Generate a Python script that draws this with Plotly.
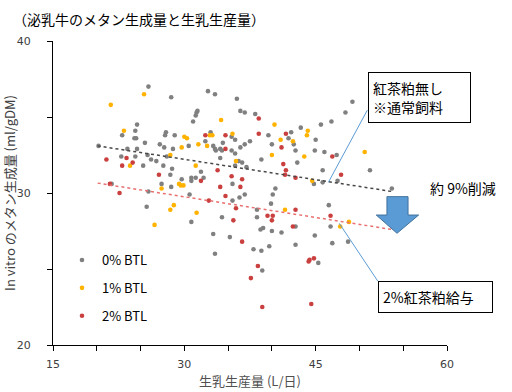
import plotly.graph_objects as go

# ---- data ----
g_x = [25.9,28.5,32.7,33.5,36.0,36.4,36.9,31.4,31.5,31.3,
       31.0,24.6,24.4,22.9,24.3,24.5,27.9,27.8,28.9,25.5,
       27.2,27.7,30.5,20.2,23.5,24.6,28.7,25.8,26.2,24.4,
       22.8,26.8,27.6,25.3,28.0,28.6,28.4,27.4,28.5,25.9,
       29.7,30.8,30.8,31.3,32.2,31.9,33.0,32.4,33.3,33.5,
       33.6,34.1,34.3,34.4,35.4,35.8,35.4,35.8,36.4,36.9,
       37.5,34.1,36.2,36.6,35.8,37.1,35.5,36.9,
       49.2,48.4,38.1,46.8,45.6,43.3,42.2,39.6,41.9,45.0,
       40.0,42.5,42.7,44.9,46.0,47.4,38.8,42.9,45.8,51.2,
       47.5,44.8,45.8,40.4,53.7,40.1,
       30.6,25.7,35.5,36.3,30.8,34.3,33.3,35.2,33.5,21.7,
       39.9,38.3,38.3,39.0,38.7,40.0,41.1,42.7,37.9,38.8,
       39.7,42.7,38.9,44.9,45.3,46.5,46.7,46.9,48.7]
g_y = [37.0,36.3,36.7,36.5,36.2,35.4,35.3,35.3,35.4,35.1,
       34.7,34.5,34.1,33.8,33.6,33.6,34.0,33.8,33.8,33.3,
       33.2,33.0,33.1,33.1,32.9,32.9,32.9,32.5,32.2,32.4,
       32.4,32.1,31.8,31.8,32.4,31.6,31.2,30.6,30.4,30.1,
       30.9,31.0,30.8,31.0,31.0,31.4,34.0,33.4,33.1,32.9,
       32.8,32.9,32.8,33.3,33.7,33.5,32.8,32.6,33.0,33.2,
       33.4,32.3,32.1,32.0,31.8,31.7,30.6,29.9,
       36.0,35.3,35.2,34.7,34.5,34.3,34.0,33.8,33.6,33.5,
       33.2,33.2,32.8,32.8,32.7,32.5,32.2,32.0,31.5,31.5,
       30.8,30.6,30.7,30.3,30.3,29.9,
       29.9,29.1,29.5,29.7,28.1,28.4,27.3,27.1,26.0,30.6,
       29.3,28.9,28.4,27.7,27.6,27.5,27.4,27.8,26.3,26.2,
       26.5,26.6,24.9,27.2,25.4,29.2,27.8,26.7,26.8]

y1_x = [25.4,21.6,34.2,23.1,30.0,30.3,32.9,33.2,35.5,31.6,
        32.6,29.7,28.4,23.8,31.3,35.9,29.4,29.6,29.9,27.4,
        40.3,44.1,44.0,41.0,42.4,40.0,43.7,50.6,44.6,28.8,
        28.4,31.4,26.6,41.5,48.8,47.8]
y1_y = [36.5,35.8,34.8,34.1,33.7,33.6,33.8,33.8,33.9,33.2,
        33.1,33.0,32.5,31.8,31.8,32.1,30.6,30.5,30.5,30.3,
        34.5,34.1,33.8,33.5,33.4,32.5,32.4,32.7,30.8,29.2,
        28.9,28.7,27.9,28.9,28.1,27.8]

r2_x = [32.4,34.7,34.7,23.4,21.1,24.1,22.9,33.8,27.1,35.4,
        36.6,31.9,34.1,36.4,21.5,22.6,38.5,38.5,41.6,41.1,
        46.9,41.3,41.6,41.5,42.7,47.9,34.7,32.8,35.9,35.6,
        36.6,37.6,38.4,42.7,39.5,40.1,40.0,42.4,46.7,44.2,
        44.3,44.8,38.9,44.5]
r2_y = [33.8,33.8,32.9,32.3,32.2,32.0,31.8,31.5,31.2,31.1,
        30.9,30.8,30.4,30.4,30.6,30.0,34.9,33.9,33.9,33.0,
        32.4,31.9,31.5,31.2,31.0,31.2,29.8,29.5,29.0,28.2,
        26.8,24.4,25.2,28.9,28.5,28.5,28.2,27.8,28.5,25.5,
        25.6,25.7,22.5,22.7]

# trend lines (end points)
trend_x = [20.1, 53.7]
trend0_y = [33.1, 30.1]
trend2_y = [30.65, 27.6]

series_names = ["0% BTL", "1% BTL", "2% BTL"]
x_tickvals = [15, 20, 25, 30, 35, 40, 45, 50, 55, 60]
x_ticktext = ["15", "", "", "30", "", "", "45", "", "", "60"]
y_tickvals = [20, 25, 30, 35, 40]
y_ticktext = ["20", "", "30", "", "40"]

C_GRAY = "#808080"
C_YEL = "#FFB300"
C_RED = "#C9403F"
JP = "Noto Sans CJK JP"

# plot-area pixel geometry
L, R, T, B = 53, 447, 41, 345
W, H = 512, 392


def px(xp):
    return (xp - L) / (R - L)


def py(yp):
    return (B - yp) / (B - T)


fig = go.Figure()
for i, (xs, ys, col) in enumerate([(g_x, g_y, C_GRAY), (y1_x, y1_y, C_YEL), (r2_x, r2_y, C_RED)]):
    fig.add_trace(go.Scatter(x=xs, y=ys, mode="markers", name=series_names[i],
                             legendgroup=series_names[i],
                             marker=dict(size=4.6, color=col, line=dict(width=0))))

fig.add_trace(go.Scatter(x=trend_x, y=trend0_y, mode="lines", showlegend=False,
                         line=dict(color="#484848", width=1.5, dash="dot")))
fig.add_trace(go.Scatter(x=trend_x, y=trend2_y, mode="lines", showlegend=False,
                         line=dict(color="#E87070", width=1.5, dash="dot")))

axis_common = dict(showgrid=False, zeroline=False, showline=True, linecolor="black",
                   linewidth=1, ticks="outside", ticklen=5, tickcolor="black",
                   automargin=False,
                   tickfont=dict(family="DejaVu Sans", size=11, color="#404040"))

fig.update_xaxes(range=[15, 60], tickvals=x_tickvals, ticktext=x_ticktext,
                 ticklabelstandoff=4,
                 title=dict(text="生乳生産量 (L/日)", font=dict(family=JP, size=13, color="#505050"),
                            standoff=6),
                 **axis_common)
fig.update_yaxes(range=[20, 40], tickvals=y_tickvals, ticktext=y_ticktext,
                 ticklabelstandoff=14,
                 title=dict(text="In vitro のメタン生成量 (ml/gDM)",
                            font=dict(family=JP, size=13, color="#404040"), standoff=2),
                 **axis_common)

# callout lines
fig.add_shape(type="line", x0=50.9, y0=35.45, x1=46.45, y1=30.7,
              line=dict(color="#5B9BD5", width=1))
fig.add_shape(type="line", x0=52.1, y0=24.2, x1=47.7, y1=28.0,
              line=dict(color="#5B9BD5", width=1))
# down arrow
fig.add_shape(type="path",
              path="M 53.14 29.76 L 55.55 29.76 L 55.55 28.55 L 56.76 28.55 L 54.29 27.35 "
                   "L 51.92 28.55 L 53.14 28.55 Z",
              fillcolor="#5B9BD5", line=dict(color="#41719C", width=1))

fig.add_annotation(x=px(419.5), y=py(97.5), xref="x domain", yref="y domain", showarrow=False,
                   xanchor="center", yanchor="middle",
                   text="紅茶粕無し<br>※通常飼料", align="left",
                   width=93, height=41, borderpad=4, bordercolor="black", borderwidth=1,
                   bgcolor="white", font=dict(family=JP, size=14, color="black"))
fig.add_annotation(x=px(435.5), y=py(297), xref="x domain", yref="y domain", showarrow=False,
                   xanchor="center", yanchor="middle",
                   text="2%紅茶粕給与", align="left",
                   width=105, height=22, borderpad=4, bordercolor="black", borderwidth=1,
                   bgcolor="white", font=dict(family=JP, size=14, color="black"))
fig.add_annotation(x=px(428), y=py(188), xref="x domain", yref="y domain", showarrow=False,
                   xanchor="left", yanchor="middle", text="約 9%削減",
                   font=dict(family=JP, size=14, color="black"))

fig.update_layout(
    width=W, height=H,
    margin=dict(l=L, r=W - R, t=T, b=H - B, autoexpand=False),
    paper_bgcolor="white", plot_bgcolor="white",
    title=dict(text="（泌乳牛のメタン生成量と生乳生産量）", x=13 / W, xanchor="left",
               xref="container", y=1 - 20 / H, yref="container", yanchor="middle",
               font=dict(family=JP, size=14, color="black")),
    legend=dict(x=px(62), y=py(245), xanchor="left", yanchor="top",
                bgcolor="rgba(0,0,0,0)", tracegroupgap=8,
                font=dict(family=JP, size=13, color="black")),
    showlegend=True,
)

fig.write_html("out.html", config={"displayModeBar": False},
               post_script="document.body.style.margin='0px';")
